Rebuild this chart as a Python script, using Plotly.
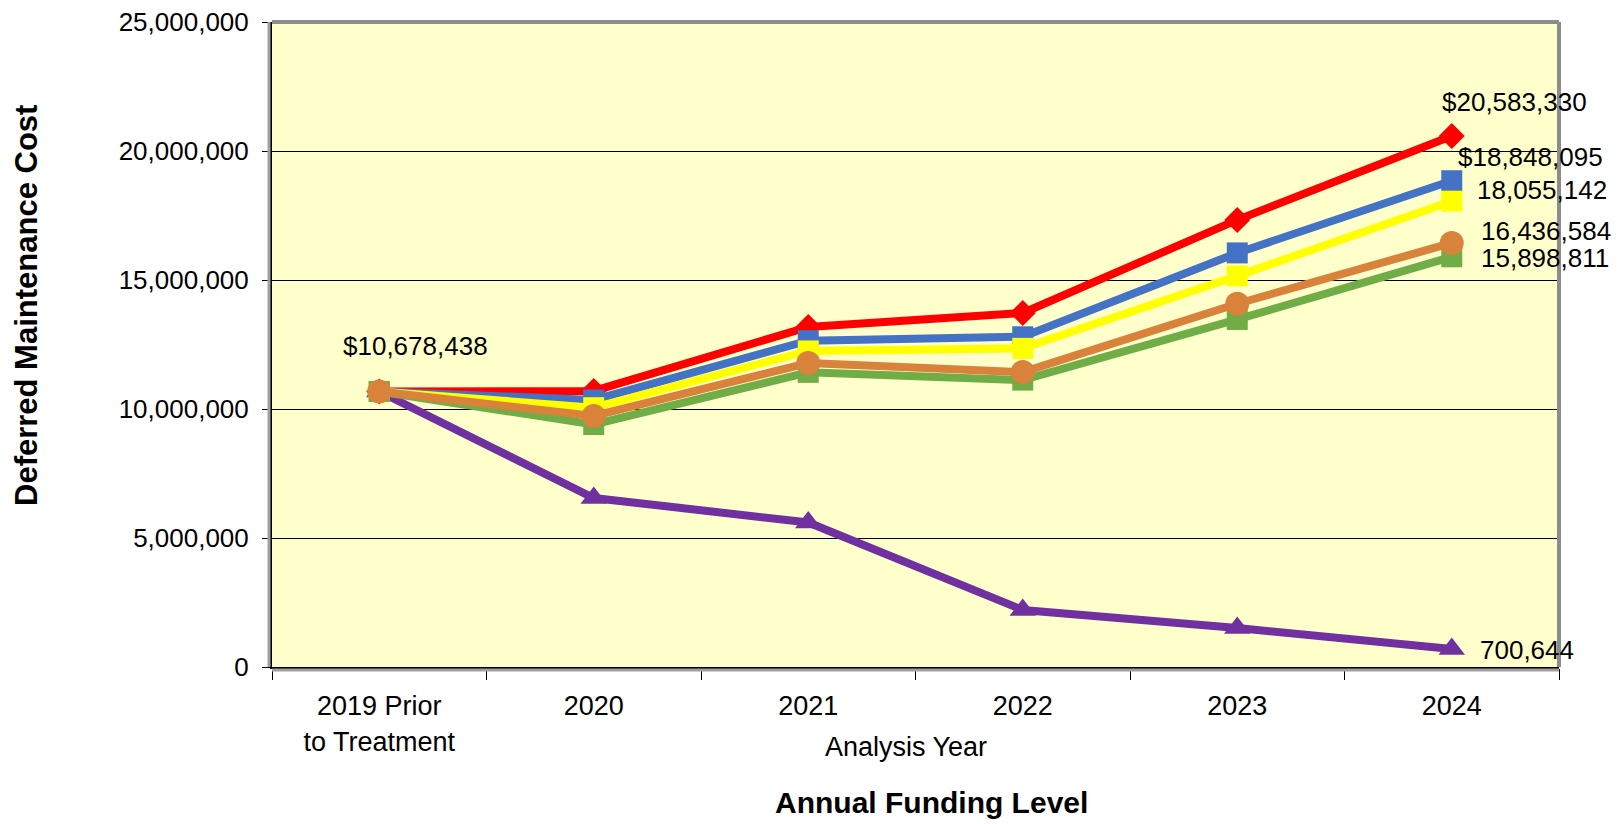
import plotly.graph_objects as go

categories = ["2019 Prior<br>to Treatment", "2020", "2021", "2022", "2023", "2024"]

red_vals    = [10678438, 10700000, 13180000, 13720000, 17330000, 20583330]
blue_vals   = [10678438, 10350000, 12650000, 12800000, 16050000, 18848095]
yellow_vals = [10678438, 10050000, 12250000, 12350000, 15160000, 18055142]
orange_vals = [10678438, 9730000, 11780000, 11430000, 14080000, 16436584]
green_vals  = [10678438, 9400000, 11420000, 11120000, 13470000, 15898811]
purple_vals = [10678438, 6550000, 5600000, 2210000, 1510000, 700644]

y_ticks = [0, 5000000, 10000000, 15000000, 20000000, 25000000]

FONT = "Liberation Sans, Arial, sans-serif"

# page offset (browser body margin)
OFF = 8
W, H = 1623 - OFF, 824 - OFF
PL, PR, PT, PB = 272, 1559, 22, 667  # plot area in page pixels


def px(X):
    return (X - PL) / (PR - PL)


def py(Y):
    return (PB - Y) / (PB - PT)


series = [
    ("purple", purple_vals, "#7030A0", "triangle-up", 23),
    ("red", red_vals, "#FF0000", "diamond", 20),
    ("blue", blue_vals, "#4472C4", "square", 21),
    ("yellow", yellow_vals, "#FFFF00", "square", 21),
    ("green", green_vals, "#70AD47", "square", 21),
    ("orange", orange_vals, "#D9823B", "circle", 24),
]

fig = go.Figure()
for name, vals, color, sym, sz in series:
    fig.add_trace(go.Scatter(
        x=categories, y=vals, mode="lines+markers", name=name,
        line=dict(color=color, width=8),
        marker=dict(symbol=sym, size=sz, color=color, line=dict(width=0)),
        showlegend=False, cliponaxis=False,
    ))


def fmt(v, dollar):
    return ("$" if dollar else "") + f"{v:,}"


labels = [
    (0, red_vals[0], True, 36, -46, "center"),
    (5, red_vals[-1], True, -12, -34, "left"),
    (5, blue_vals[-1], True, 4, -24, "left"),
    (5, yellow_vals[-1], False, 23, -11, "left"),
    (5, orange_vals[-1], False, 27, -12, "left"),
    (5, green_vals[-1], False, 27, 1, "left"),
    (5, purple_vals[-1], False, 26, 1, "left"),
]
annotations = []
for ci, v, dollar, dx, dy, anchor in labels:
    annotations.append(dict(
        x=ci, y=v, xref="x", yref="y", text=fmt(v, dollar), showarrow=False,
        xshift=dx, yshift=-dy, xanchor=anchor, yanchor="middle",
        font=dict(family=FONT, size=26, color="black"),
    ))

annotations += [
    dict(x=px(906), y=py(747), xref="paper", yref="paper", text="Analysis Year",
         showarrow=False, xanchor="center", yanchor="middle",
         font=dict(family=FONT, size=27, color="black")),
    dict(x=px(932), y=py(802), xref="paper", yref="paper", text="<b>Annual Funding Level</b>",
         showarrow=False, xanchor="center", yanchor="middle",
         font=dict(family=FONT, size=30, color="black")),
    dict(x=px(26), y=py(306), xref="paper", yref="paper", text="<b>Deferred Maintenance Cost</b>",
         showarrow=False, textangle=-90, xanchor="center", yanchor="middle",
         font=dict(family=FONT, size=31, color="black")),
]

shapes = [
    dict(type="line", xref="paper", yref="paper", x0=0, x1=1, y0=1, y1=1,
         line=dict(color="#8C8C8C", width=4), layer="above"),
    dict(type="line", xref="paper", yref="paper", x0=1, x1=1, y0=0, y1=1,
         line=dict(color="#8C8C8C", width=4), layer="above"),
    dict(type="line", xref="paper", yref="paper", x0=px(PL - 3), x1=px(PL - 3), y0=0, y1=1,
         line=dict(color="#A0A0A0", width=3), layer="above"),
    dict(type="line", xref="paper", yref="paper", x0=0, x1=1, y0=py(PB + 3), y1=py(PB + 3),
         line=dict(color="#A0A0A0", width=3), layer="above"),
]

fig.update_layout(
    width=W, height=H,
    margin=dict(l=PL - OFF, r=W - (PR - OFF), t=PT - OFF, b=H - (PB - OFF), autoexpand=False),
    paper_bgcolor="white", plot_bgcolor="#FFFFCC",
    annotations=annotations, shapes=shapes,
    xaxis=dict(
        type="category", range=[-0.5, 5.5], tickson="boundaries",
        ticks="outside", ticklen=11, tickcolor="black", tickwidth=1,
        showline=True, linecolor="black", linewidth=2, showgrid=False,
        ticklabelstandoff=14, automargin=False, ticklabeloverflow="allow",
        tickfont=dict(family=FONT, size=27, color="black"),
    ),
    yaxis=dict(
        range=[0, 25000000], tickvals=y_ticks, tickformat=",d",
        ticks="outside", ticklen=8, tickcolor="black", tickwidth=1,
        showline=True, linecolor="black", linewidth=2,
        showgrid=True, gridcolor="black", gridwidth=1, zeroline=False,
        ticklabelstandoff=8, automargin=False, ticklabeloverflow="allow",
        tickfont=dict(family=FONT, size=26, color="black"),
    ),
)

fig.write_html("out.html")
